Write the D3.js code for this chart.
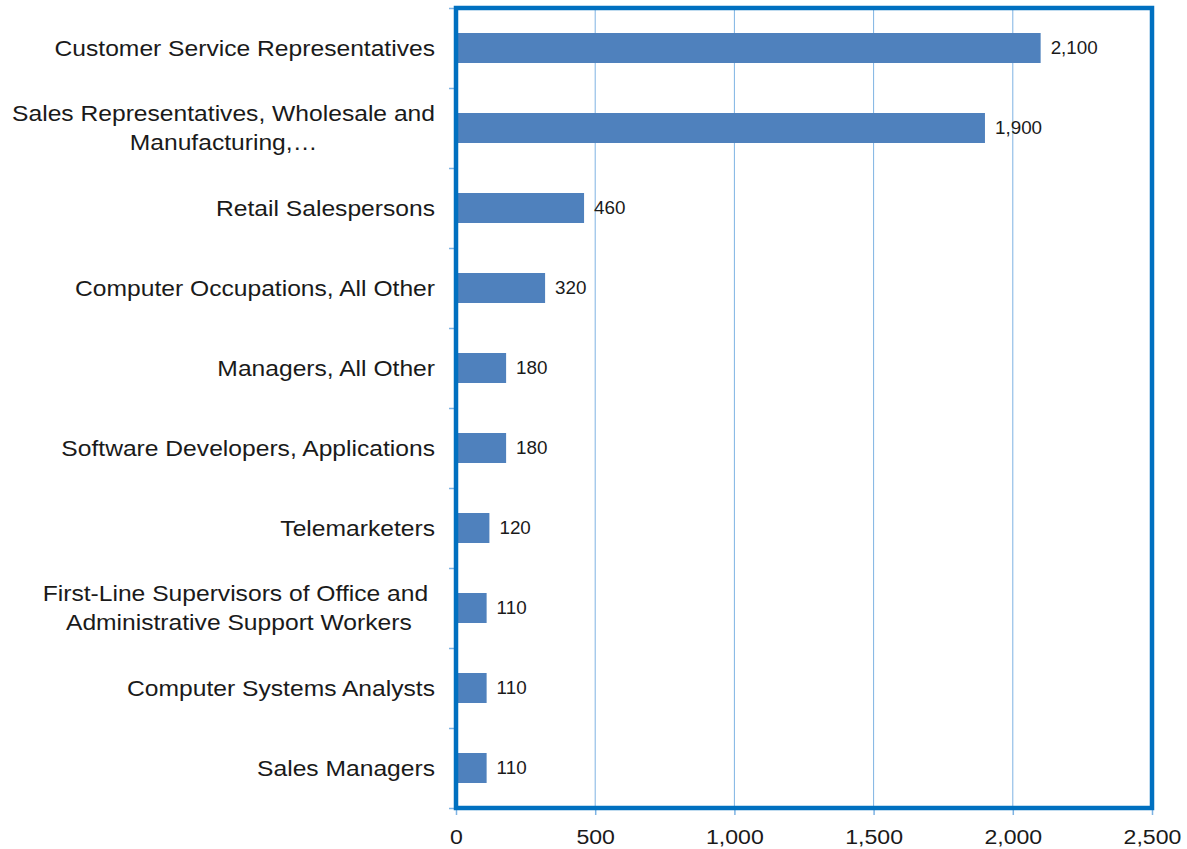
<!DOCTYPE html>
<html>
<head>
<meta charset="utf-8">
<title>Occupations</title>
<script src="https://d3js.org/d3.v7.min.js"></script>
<style>
body { margin: 0; background: #fff; }
text { font-family: "Liberation Sans", Arial, sans-serif; fill: #1a1a1a; }
.grid line { stroke: #7eb3e3; stroke-width: 1px; }
.tick line { stroke: #7eb3e3; stroke-width: 1.5px; }
</style>
</head>
<body>
<div id="chart"></div>
<script>
// data
var categories = [
  "Customer Service Representatives",
  "Sales Representatives, Wholesale and\nManufacturing,\u2026",
  "Retail Salespersons",
  "Computer Occupations, All Other",
  "Managers, All Other",
  "Software Developers, Applications",
  "Telemarketers",
  "First-Line Supervisors of Office and \nAdministrative Support Workers",
  "Computer Systems Analysts",
  "Sales Managers"
];
var values = [2100, 1900, 460, 320, 180, 180, 120, 110, 110, 110];
var xTicks = [0, 500, 1000, 1500, 2000, 2500];

var margin = {top: 8, right: 35, bottom: 41, left: 456},
    width = 1187 - margin.left - margin.right,
    height = 849 - margin.top - margin.bottom;

var svg = d3.select("#chart").append("svg")
    .attr("width", 1187)
    .attr("height", 849)
  .append("g")
    .attr("transform", "translate(" + margin.left + "," + margin.top + ")");

var x = d3.scaleLinear().domain([0, 2500]).range([0, width]);
var y = d3.scaleBand().domain(categories).range([0, height])
    .paddingInner(0.625).paddingOuter(0.3125);
var yIdx = d3.scaleLinear().domain([0, categories.length]).range([0, height]);

// gridlines
svg.append("g").attr("class", "grid")
  .selectAll("line")
  .data(xTicks)
  .enter().append("line")
    .attr("x1", function(d) { return x(d); })
    .attr("x2", function(d) { return x(d); })
    .attr("y1", 0)
    .attr("y2", height);

// bars
svg.selectAll(".bar")
  .data(values)
  .enter().append("rect")
    .attr("class", "bar")
    .attr("x", 0)
    .attr("y", function(d, i) { return y(categories[i]); })
    .attr("width", function(d) { return x(d); })
    .attr("height", y.bandwidth())
    .attr("fill", "#4f81bd");

// value labels
svg.selectAll(".val")
  .data(values)
  .enter().append("text")
    .attr("class", "val")
    .attr("transform", function(d, i) {
      return "translate(" + (x(d) + 10) + "," + (y(categories[i]) + y.bandwidth() / 2) + ") scale(1.07,1)";
    })
    .attr("dy", "0.35em")
    .style("font-size", "17.6px")
    .text(function(d) { return d3.format(",")(d); });

// y ticks at the band edges
var yAxis = svg.append("g")
    .call(d3.axisLeft(yIdx).tickValues(d3.range(categories.length + 1)).tickSize(7).tickFormat(""));
yAxis.select(".domain").remove();

// x axis
var xAxis = svg.append("g")
    .attr("transform", "translate(0," + height + ")")
    .call(d3.axisBottom(x).tickValues(xTicks).tickSize(7).tickPadding(14).tickFormat(d3.format(",")));
xAxis.select(".domain").remove();
xAxis.selectAll("text")
    .attr("transform", "scale(1.1,1)")
    .style("font-size", "21px")
    .style("fill", "#1a1a1a");

// category labels
var labels = svg.selectAll(".cat")
  .data(categories)
  .enter().append("g")
    .attr("class", "cat")
    .attr("transform", function(d) {
      return "translate(-21," + (y(d) + y.bandwidth() / 2) + ") scale(1.1,1)";
    });

labels.each(function(d) {
  var g = d3.select(this);
  var lines = d.split("\n");
  var t = g.append("text")
      .style("font-size", "22.4px")
      .style("white-space", "pre")
      .attr("text-anchor", "middle");
  t.selectAll("tspan")
    .data(lines)
    .enter().append("tspan")
      .attr("dy", function(l, i) { return i === 0 ? ((0.35 - (lines.length - 1) * 0.65) + "em") : "1.3em"; })
      .text(function(l) { return l; });
  var maxW = 0;
  t.selectAll("tspan").each(function() {
    maxW = Math.max(maxW, this.getComputedTextLength());
  });
  t.selectAll("tspan").attr("x", -maxW / 2);
});

// plot border
svg.append("rect")
    .attr("x", 0)
    .attr("y", 0)
    .attr("width", width)
    .attr("height", height)
    .attr("fill", "none")
    .attr("stroke", "#0070c0")
    .attr("stroke-width", 4.5);
</script>
</body>
</html>
